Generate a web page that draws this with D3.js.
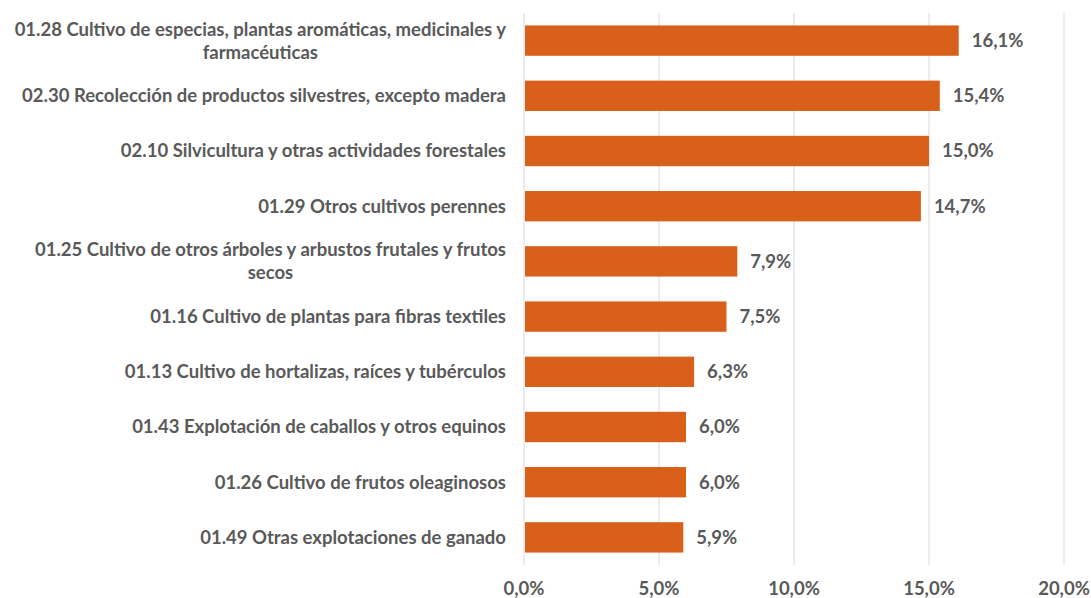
<!DOCTYPE html>
<html>
<head>
<meta charset="utf-8">
<script src="https://cdn.jsdelivr.net/npm/d3@7"></script>
<style>
  body { margin: 0; background: #fff; }
  text { font-family: Lato, "Open Sans", sans-serif; font-weight: bold; fill: #595959; }
</style>
</head>
<body>
<div id="chart"></div>
<script>
var categories = [
  "01.28 Cultivo de especias, plantas aromáticas, medicinales y farmacéuticas",
  "02.30 Recolección de productos silvestres, excepto madera",
  "02.10 Silvicultura y otras actividades forestales",
  "01.29 Otros cultivos perennes",
  "01.25 Cultivo de otros árboles y arbustos frutales y frutos secos",
  "01.16 Cultivo de plantas para fibras textiles",
  "01.13 Cultivo de hortalizas, raíces y tubérculos",
  "01.43 Explotación de caballos y otros equinos",
  "01.26 Cultivo de frutos oleaginosos",
  "01.49 Otras explotaciones de ganado"
];
var values = [16.1, 15.4, 15.0, 14.7, 7.9, 7.5, 6.3, 6.0, 6.0, 5.9];
var tickValues = [0, 5, 10, 15, 20];

var width = 1091, height = 598;
var margin = {top: 13, right: 27, bottom: 33, left: 524};
var fontSize = "18.5px";

var svg = d3.select("#chart").append("svg")
    .attr("width", width)
    .attr("height", height);

var x = d3.scaleLinear().domain([0, 20]).range([margin.left, width - margin.right]);
var y = d3.scaleBand().domain(categories).range([margin.top, height - margin.bottom]).paddingInner(0.45).paddingOuter(0.225);

var es = d3.formatLocale({decimal: ",", thousands: ".", grouping: [3], currency: ["", "€"]});
var fmt = es.format(".1f");

// gridlines
svg.append("g").selectAll("line")
    .data(tickValues)
  .enter().append("line")
    .attr("x1", function(d) { return x(d); })
    .attr("x2", function(d) { return x(d); })
    .attr("y1", margin.top)
    .attr("y2", height - margin.bottom)
    .style("stroke", "#d9d9d9")
    .style("stroke-width", 1);

// bars
svg.append("g").selectAll("rect")
    .data(values)
  .enter().append("rect")
    .attr("x", x(0) + 1)
    .attr("y", function(d, i) { return y(categories[i]); })
    .attr("width", function(d) { return x(d) - x(0) - 1; })
    .attr("height", y.bandwidth())
    .style("fill", "#d9601a");

// value labels
svg.append("g").selectAll("text")
    .data(values)
  .enter().append("text")
    .attr("x", function(d) { return x(d) + 13; })
    .attr("y", function(d, i) { return y(categories[i]) + y.bandwidth() / 2; })
    .attr("dy", "0.35em")
    .style("font-size", fontSize)
    .text(function(d) { return fmt(d) + "%"; });

// x axis labels
svg.append("g").selectAll("text")
    .data(tickValues)
  .enter().append("text")
    .attr("x", function(d) { return x(d); })
    .attr("y", 589)
    .attr("dy", "0.35em")
    .attr("text-anchor", "middle")
    .style("font-size", fontSize)
    .text(function(d) { return fmt(d) + "%"; });

// category labels, wrapped and centred as a block ending at x=506
var maxW = 500, lineH = 23;
var lab = svg.append("g");
categories.forEach(function(c, i) {
  var t = lab.append("text").style("font-size", fontSize);
  var words = c.split(" "), lines = [], cur = [];
  words.forEach(function(w) {
    cur.push(w);
    t.text(cur.join(" "));
    if (t.node().getComputedTextLength() > maxW && cur.length > 1) {
      cur.pop();
      lines.push(cur.join(" "));
      cur = [w];
    }
  });
  lines.push(cur.join(" "));
  var widths = lines.map(function(l) { t.text(l); return t.node().getComputedTextLength(); });
  t.text(null);
  var blockW = d3.max(widths);
  var cx = 506 - blockW / 2;
  var cy = y(c) + y.bandwidth() / 2 - (lines.length - 1) * lineH / 2;
  lines.forEach(function(l, j) {
    t.append("tspan")
      .attr("x", cx)
      .attr("y", cy + j * lineH)
      .attr("dy", "0.35em")
      .attr("text-anchor", "middle")
      .text(l);
  });
});
</script>
</body>
</html>
